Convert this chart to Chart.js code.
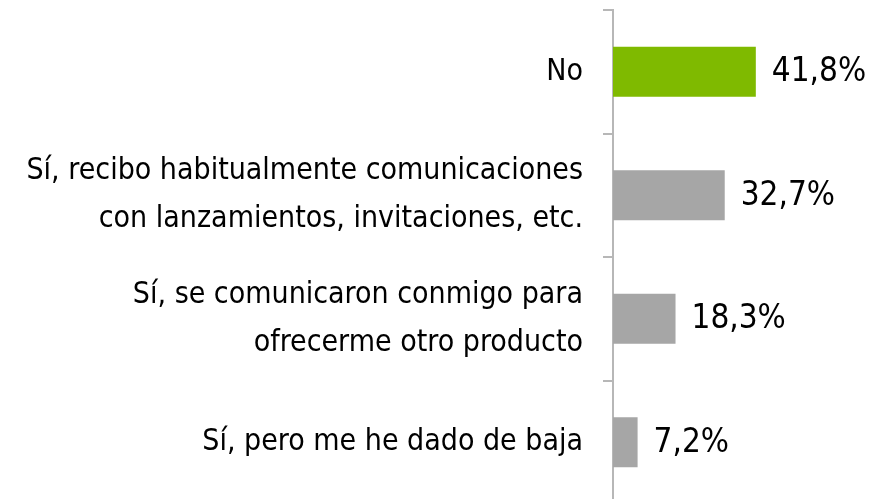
<!DOCTYPE html>
<html>
<head>
<meta charset="utf-8">
<script src="https://cdn.jsdelivr.net/npm/chart.js@4"></script>
<style>
  html, body { margin: 0; padding: 0; background: #fff; overflow: hidden; }
  #wrap { width: 874px; height: 510px; position: relative; }
</style>
</head>
<body>
<div id="wrap"><canvas id="chart"></canvas></div>
<script>
const categories = [
    'No',
    ['Sí, recibo habitualmente comunicaciones', 'con lanzamientos, invitaciones, etc.'],
    ['Sí, se comunicaron conmigo para', 'ofrecerme otro producto'],
    'Sí, pero me he dado de baja'
];
const values = [41.8, 32.7, 18.3, 7.2];
const barColors = ['#7FBA00', '#A6A6A6', '#A6A6A6', '#A6A6A6'];

const FONT = '"Liberation Sans Narrow", "DejaVu Sans Condensed", "Liberation Sans", sans-serif';

// draws "41,8%" style labels next to each bar
const valueLabels = {
    id: 'valueLabels',
    afterDatasetsDraw(chart) {
        const ctx = chart.ctx;
        const meta = chart.getDatasetMeta(0);
        ctx.save();
        ctx.font = '33px ' + FONT;
        ctx.fillStyle = '#000';
        ctx.textBaseline = 'middle';
        ctx.textAlign = 'left';
        meta.data.forEach((bar, i) => {
            const txt = values[i].toFixed(1).replace('.', ',') + '%';
            ctx.fillText(txt, bar.x + 16, bar.y + 1);
        });
        ctx.restore();
    }
};

new Chart(document.getElementById('chart'), {
    type: 'bar',
    data: {
        labels: categories,
        datasets: [{
            data: values,
            backgroundColor: barColors,
            borderWidth: 0,
            categoryPercentage: 1,
            barPercentage: 0.405
        }]
    },
    options: {
        indexAxis: 'y',
        responsive: true,
        maintainAspectRatio: false,
        animation: false,
        layout: { padding: { top: 10, bottom: 6, right: 56, left: 0 } },
        plugins: {
            legend: { display: false },
            tooltip: { enabled: false }
        },
        scales: {
            x: {
                display: false,
                min: 0,
                max: 60
            },
            y: {
                afterFit(scale) {
                    scale.width = 613;
                    scale.paddingTop = 0;
                    scale.paddingBottom = 0;
                },
                border: { display: true, color: '#B7B7B7', width: 2 },
                grid: {
                    drawOnChartArea: false,
                    drawTicks: true,
                    tickLength: 10,
                    color: '#B7B7B7',
                    lineWidth: 2
                },
                ticks: {
                    padding: 20,
                    color: '#000',
                    font: { family: FONT, size: 30, lineHeight: 1.6 }
                }
            }
        }
    },
    plugins: [valueLabels]
});
</script>
</body>
</html>
